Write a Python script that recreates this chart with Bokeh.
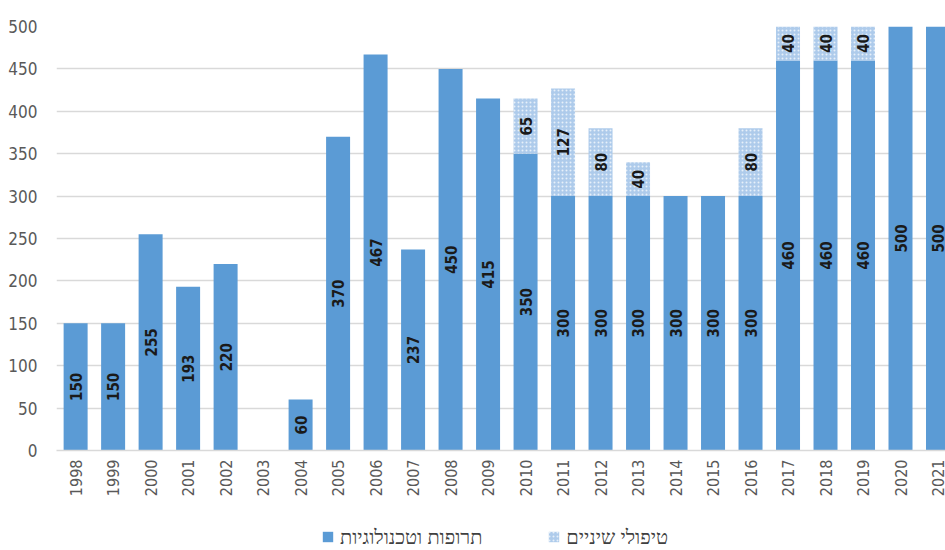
import math
from bokeh.plotting import figure
from bokeh.layouts import column
from bokeh.models import ColumnDataSource, Range1d, FixedTicker, Legend, LegendItem
from bokeh.core.properties import value
from bokeh.embed import file_html
from bokeh.resources import INLINE

years = list(range(1998, 2022))
drugs = [150, 150, 255, 193, 220, 0, 60, 370, 467, 237, 450, 415, 350, 300, 300, 300, 300, 300, 300, 460, 460, 460, 500, 500]
dental = [0, 0, 0, 0, 0, 0, 0, 0, 0, 0, 0, 0, 65, 127, 80, 40, 0, 0, 80, 40, 40, 40, 0, 0]
series_names = ["תרופות וטכנולוגיות", "טיפולי שיניים"]
y_ticks = [0, 50, 100, 150, 200, 250, 300, 350, 400, 450, 500]

BLUE = "#5b9bd5"
LIGHT = "#aecbeb"
NUM_FONT = "DejaVu Sans Condensed"

solid_style = dict(fill_color=BLUE, line_color=None)
hatch_style = dict(fill_color=LIGHT, line_color=None, hatch_pattern="dot",
                   hatch_color="white", hatch_alpha=0.7, hatch_scale=4, hatch_weight=1.2)

p = figure(frame_width=889, frame_height=424, output_backend="svg", toolbar_location=None,
           x_range=Range1d(1997.49, 2021.2), y_range=Range1d(0, 500),
           min_border_left=56, min_border_right=0, min_border_top=26, min_border_bottom=70)
p.outline_line_color = None
p.background_fill_color = "white"
p.border_fill_color = "white"

src = ColumnDataSource(dict(x=years, drugs=drugs, dental=dental,
                            top2=[a + b for a, b in zip(drugs, dental)]))
p.vbar(x="x", width=0.64, bottom=0, top="drugs", source=src, **solid_style)
p.vbar(x="x", width=0.64, bottom="drugs", top="top2", source=src, **hatch_style)

# value labels
lx, ly, lt = [], [], []
for x, a, b in zip(years, drugs, dental):
    if a > 0:
        lx.append(x); ly.append(a / 2); lt.append(str(a))
    if b > 0:
        lx.append(x); ly.append(a + b / 2); lt.append(str(b))
lsrc = ColumnDataSource(dict(x=lx, y=ly, t=lt))
p.text(x="x", y="y", text="t", source=lsrc, angle=math.pi / 2,
       text_align="center", text_baseline="middle",
       text_font=value(NUM_FONT), text_font_size="15px", text_font_style="bold",
       text_color="#1a1a1a")

# axes
p.xaxis.ticker = FixedTicker(ticks=years)
p.xaxis.major_label_orientation = math.pi / 2
p.xaxis.major_tick_line_color = None
p.xaxis.major_tick_out = 0
p.xaxis.minor_tick_line_color = None
p.xaxis.axis_line_color = "#d9d9d9"
p.xaxis.axis_line_width = 1.5
p.xaxis.major_label_text_font = NUM_FONT
p.xaxis.major_label_text_font_size = "16px"
p.xaxis.major_label_text_color = "#595959"
p.xaxis.major_label_standoff = 9

p.yaxis.ticker = FixedTicker(ticks=y_ticks)
p.yaxis.axis_line_color = None
p.yaxis.major_tick_line_color = None
p.yaxis.major_tick_out = 0
p.yaxis.minor_tick_line_color = None
p.yaxis.major_label_text_font = NUM_FONT
p.yaxis.major_label_text_font_size = "17px"
p.yaxis.major_label_text_color = "#595959"
p.yaxis.major_label_standoff = 19

p.xgrid.grid_line_color = None
p.ygrid.ticker = FixedTicker(ticks=y_ticks)
p.ygrid.grid_line_color = "#d9d9d9"
p.ygrid.grid_line_width = 1.5

# legend in its own strip below the chart
lg = figure(width=945, height=30, output_backend="svg", toolbar_location=None,
            x_range=Range1d(0, 1), y_range=Range1d(0, 1),
            min_border=0, min_border_left=0, min_border_right=0,
            min_border_top=0, min_border_bottom=0)
lg.axis.visible = False
lg.grid.visible = False
lg.outline_line_color = None
offscreen = ColumnDataSource(dict(x=[-10], top=[-10]))
g1 = lg.vbar(x="x", top="top", bottom=-11, width=0.5, source=offscreen, **solid_style)
g2 = lg.vbar(x="x", top="top", bottom=-11, width=0.5, source=offscreen, **hatch_style)
legend = Legend(items=[LegendItem(label=series_names[0], renderers=[g1], index=0),
                       LegendItem(label=series_names[1], renderers=[g2], index=0)],
                orientation="horizontal", location=(265, 0),
                label_text_font="Noto Sans", label_text_font_size="20px",
                label_text_color="#404040", glyph_width=13, glyph_height=13,
                label_standoff=6, spacing=65, border_line_color=None,
                background_fill_alpha=0, margin=0, padding=2)
lg.add_layout(legend)

layout = column(p, lg, spacing=0)
open("out.html", "w").write(file_html(layout, INLINE))
